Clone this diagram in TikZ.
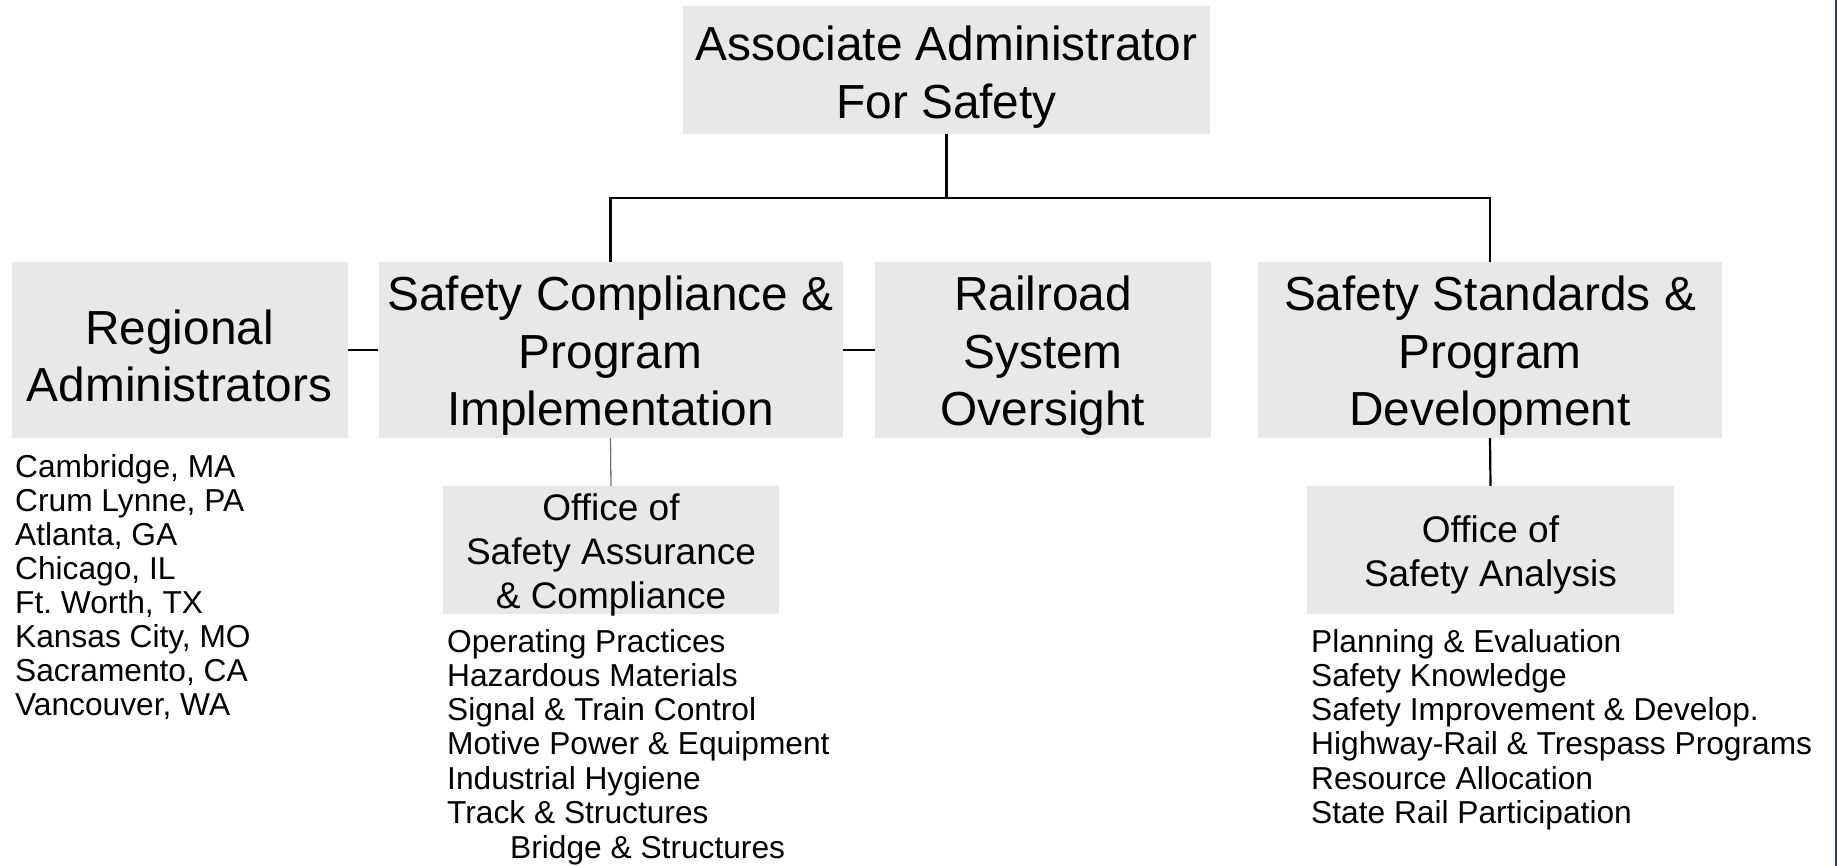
\documentclass[tikz,border=0pt]{standalone}
\usepackage{fontspec}
\setmainfont{Liberation Sans}
\frenchspacing
\definecolor{boxgray}{RGB}{232,232,232}
\definecolor{edgeblue}{RGB}{46,49,146}
\begin{document}
\begin{tikzpicture}[x=1pt,y=-1pt,
  box/.style={fill=boxgray, inner sep=0pt},
  bigtext/.style={font=\fontsize{47.8}{57.5}\selectfont, align=center, inner sep=0pt},
  midtext/.style={font=\fontsize{37}{44}\selectfont, align=center, inner sep=0pt},
  listtext/.style={font=\fontsize{31.7}{34.2}\selectfont, anchor=base west, inner sep=0pt},
  link/.style={draw=black, line width=2.2pt},
  sidelink/.style={draw=black, line width=1.5pt},
  greylink/.style={draw=black!55, line width=1.3pt}]
\useasboundingbox (0,0) rectangle (1837,866);
\fill[white] (0,0) rectangle (1837,866);
% right edge line
\fill[edgeblue] (1834.5,0) rectangle (1837,866);

% boxes
\node[box,minimum width=527pt,minimum height=128pt,
  label={[bigtext,yshift=-7pt]center:{Associate Administrator\\For Safety}}] (top) at (946.5,70) {};
\node[box,minimum width=336pt,minimum height=176pt,
  label={[bigtext,yshift=-6pt]center:{Regional\\Administrators}}] (reg) at (179.5,350) {};
\node[box,minimum width=464pt,minimum height=176pt,
  label={[bigtext,yshift=-6pt]center:{Safety Compliance \&\\Program\\Implementation}}] (sc) at (610.5,350) {};
\node[box,minimum width=336pt,minimum height=176pt,
  label={[bigtext,yshift=-6pt]center:{Railroad\\System\\Oversight}}] (rso) at (1043,350) {};
\node[box,minimum width=464pt,minimum height=176pt,
  label={[bigtext,yshift=-6pt]center:{Safety Standards \&\\Program\\Development}}] (sspd) at (1490,350) {};
\node[box,minimum width=336pt,minimum height=128pt,
  label={[midtext,yshift=-5pt]center:{Office of\\Safety Assurance\\\& Compliance}}] (osac) at (611,550) {};
\node[box,minimum width=367pt,minimum height=128pt,
  label={[midtext,yshift=-5pt]center:{Office of\\Safety Analysis}}] (osa) at (1490.5,550) {};

% connectors
\coordinate (bus) at (946.5,198);
\draw[link] (top.south) -- (bus);
\draw[link] (sc.north) |- (bus) -| (sspd.north);
\draw[sidelink] (reg.east) -- (sc.west);
\draw[sidelink] (sc.east) -- (rso.west);
\draw[greylink] (sc.south) -- (osac.north);
\draw[link] (sspd.south) -- (osa.north);

% lists
\foreach \t [count=\i from 0] in {{Cambridge, MA}, {Crum Lynne, PA}, {Atlanta, GA}, {Chicago, IL}, {Ft. Worth, TX}, {Kansas City, MO}, {Sacramento, CA}, {Vancouver, WA}}
  \node[listtext] (r\i) at (15,477+34*\i) {\t};
\foreach \t [count=\i from 0] in {Operating Practices, Hazardous Materials, Signal \& Train Control, Motive Power \& Equipment, Industrial Hygiene, Track \& Structures}
  \node[listtext] (m\i) at (447,652+34.3*\i) {\t};
\node[listtext] (m6) at (510,858) {Bridge \& Structures};
\foreach \t [count=\i from 0] in {Planning \& Evaluation, Safety Knowledge, Safety Improvement \& Develop., Highway-Rail \& Trespass Programs, Resource Allocation, State Rail Participation}
  \node[listtext] (s\i) at (1311,652+34.3*\i) {\t};
\end{tikzpicture}
\end{document}
